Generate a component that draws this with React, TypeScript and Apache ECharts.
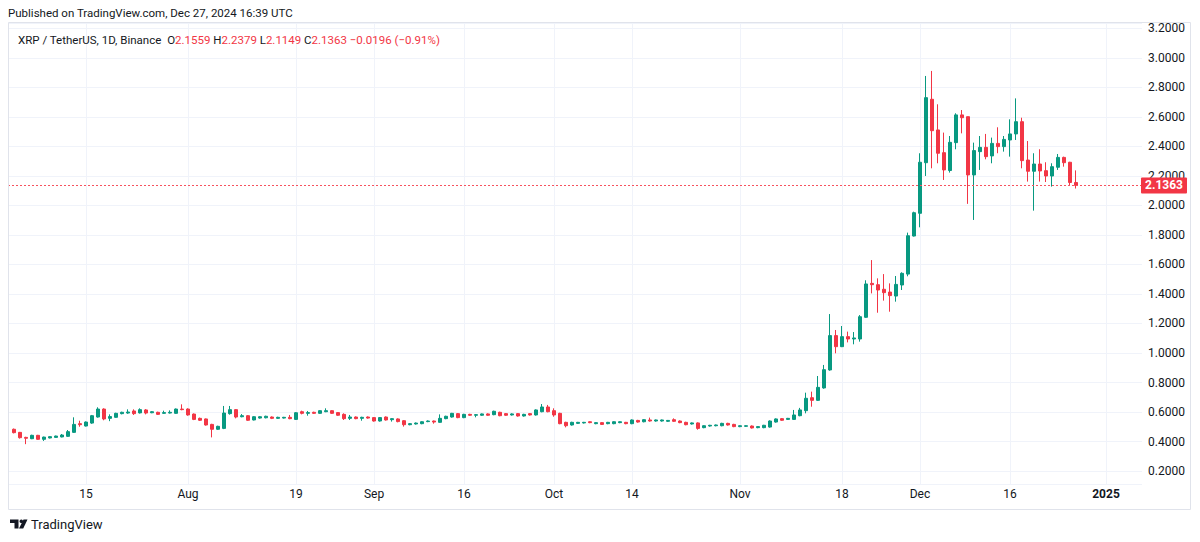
import React, { useEffect, useRef } from "react";
import * as echarts from "echarts";

// ---- data ----
const firstCategoryDate = "2024-07-02";
const categoryCount = 190; // Jul 2 2024 .. Jan 7 2025
const firstCandleDate = "2024-07-03";

const opens = [
  0.483, 0.462, 0.428, 0.419, 0.442, 0.415, 0.424, 0.428, 0.431, 0.435,
  0.462, 0.521, 0.505, 0.525, 0.566, 0.620, 0.557, 0.564, 0.589, 0.593,
  0.607, 0.594, 0.614, 0.595, 0.598, 0.591, 0.593, 0.591, 0.620, 0.620,
  0.586, 0.557, 0.553, 0.516, 0.483, 0.489, 0.589, 0.616, 0.568, 0.575,
  0.546, 0.559, 0.561, 0.566, 0.557, 0.559, 0.564, 0.550, 0.602, 0.591,
  0.598, 0.591, 0.602, 0.609, 0.596, 0.584, 0.557, 0.566, 0.557, 0.566,
  0.562, 0.539, 0.566, 0.548, 0.553, 0.541, 0.514, 0.519, 0.521, 0.535,
  0.539, 0.530, 0.555, 0.566, 0.589, 0.562, 0.584, 0.578, 0.578, 0.587,
  0.582, 0.598, 0.589, 0.580, 0.589, 0.573, 0.589, 0.580, 0.602, 0.634,
  0.609, 0.591, 0.530, 0.512, 0.523, 0.526, 0.534, 0.521, 0.528, 0.521,
  0.521, 0.528, 0.530, 0.521, 0.543, 0.534, 0.546, 0.539, 0.539, 0.537,
  0.548, 0.539, 0.530, 0.519, 0.526, 0.494, 0.505, 0.507, 0.507, 0.523,
  0.516, 0.501, 0.503, 0.505, 0.494, 0.494, 0.498, 0.532, 0.555, 0.550,
  0.550, 0.575, 0.609, 0.697, 0.679, 0.763, 0.885, 1.118, 1.043, 1.111,
  1.095, 1.095, 1.242, 1.472, 1.463, 1.432, 1.413, 1.386, 1.461, 1.535,
  1.793, 1.947, 2.290, 2.720, 2.512, 2.358, 2.237, 2.426, 2.614, 2.602,
  2.207, 2.365, 2.394, 2.336, 2.421, 2.399, 2.444, 2.485, 2.568, 2.308,
  2.232, 2.281, 2.236, 2.200, 2.259, 2.326, 2.293, 2.1559,
];
const closes = [
  0.460, 0.426, 0.422, 0.442, 0.415, 0.430, 0.433, 0.437, 0.444, 0.467,
  0.516, 0.514, 0.532, 0.575, 0.620, 0.553, 0.569, 0.591, 0.598, 0.600,
  0.589, 0.616, 0.593, 0.602, 0.584, 0.596, 0.598, 0.620, 0.616, 0.580,
  0.550, 0.544, 0.512, 0.483, 0.503, 0.593, 0.616, 0.566, 0.575, 0.544,
  0.568, 0.568, 0.571, 0.557, 0.564, 0.564, 0.555, 0.595, 0.591, 0.596,
  0.591, 0.609, 0.609, 0.591, 0.578, 0.555, 0.566, 0.555, 0.564, 0.559,
  0.539, 0.562, 0.546, 0.555, 0.535, 0.514, 0.521, 0.525, 0.534, 0.539,
  0.532, 0.557, 0.571, 0.591, 0.562, 0.584, 0.578, 0.582, 0.587, 0.578,
  0.605, 0.575, 0.578, 0.587, 0.573, 0.584, 0.580, 0.614, 0.634, 0.602,
  0.580, 0.521, 0.507, 0.530, 0.530, 0.530, 0.528, 0.528, 0.516, 0.530,
  0.534, 0.534, 0.521, 0.546, 0.532, 0.548, 0.539, 0.546, 0.546, 0.543,
  0.537, 0.528, 0.514, 0.526, 0.489, 0.507, 0.510, 0.512, 0.523, 0.512,
  0.501, 0.507, 0.507, 0.492, 0.501, 0.510, 0.539, 0.553, 0.544, 0.557,
  0.580, 0.614, 0.693, 0.679, 0.767, 0.887, 1.118, 1.043, 1.111, 1.095,
  1.102, 1.246, 1.468, 1.463, 1.427, 1.409, 1.389, 1.465, 1.540, 1.795,
  1.951, 2.293, 2.731, 2.507, 2.354, 2.241, 2.428, 2.614, 2.595, 2.207,
  2.372, 2.394, 2.331, 2.421, 2.399, 2.448, 2.485, 2.568, 2.304, 2.232,
  2.281, 2.234, 2.200, 2.263, 2.326, 2.290, 2.156, 2.1363,
];
const lows = [
  0.455, 0.420, 0.382, 0.416, 0.412, 0.404, 0.421, 0.425, 0.428, 0.432,
  0.458, 0.500, 0.502, 0.520, 0.562, 0.544, 0.538, 0.561, 0.584, 0.588,
  0.580, 0.590, 0.584, 0.592, 0.580, 0.588, 0.590, 0.588, 0.612, 0.575,
  0.545, 0.539, 0.508, 0.428, 0.479, 0.484, 0.582, 0.557, 0.564, 0.540,
  0.543, 0.555, 0.557, 0.552, 0.553, 0.556, 0.551, 0.546, 0.584, 0.575,
  0.587, 0.588, 0.599, 0.587, 0.574, 0.546, 0.546, 0.551, 0.541, 0.555,
  0.535, 0.535, 0.542, 0.535, 0.530, 0.501, 0.510, 0.515, 0.517, 0.531,
  0.521, 0.527, 0.551, 0.562, 0.558, 0.558, 0.574, 0.564, 0.574, 0.574,
  0.578, 0.571, 0.574, 0.576, 0.569, 0.569, 0.576, 0.576, 0.598, 0.598,
  0.568, 0.517, 0.496, 0.508, 0.519, 0.522, 0.524, 0.517, 0.512, 0.517,
  0.517, 0.524, 0.517, 0.517, 0.528, 0.530, 0.535, 0.535, 0.535, 0.533,
  0.533, 0.524, 0.510, 0.515, 0.480, 0.490, 0.501, 0.503, 0.503, 0.508,
  0.497, 0.497, 0.499, 0.488, 0.490, 0.490, 0.494, 0.528, 0.540, 0.546,
  0.546, 0.571, 0.591, 0.636, 0.675, 0.758, 0.880, 0.998, 1.040, 1.072,
  1.059, 1.077, 1.238, 1.404, 1.273, 1.355, 1.280, 1.348, 1.427, 1.520,
  1.790, 1.852, 2.200, 2.252, 2.286, 2.173, 2.223, 2.381, 2.489, 2.011,
  1.902, 2.241, 2.313, 2.286, 2.354, 2.365, 2.331, 2.444, 2.252, 2.162,
  1.965, 2.162, 2.159, 2.128, 2.241, 2.263, 2.139, 2.1149,
];
const highs = [
  0.488, 0.465, 0.432, 0.446, 0.445, 0.433, 0.436, 0.440, 0.451, 0.478,
  0.564, 0.541, 0.536, 0.580, 0.632, 0.625, 0.584, 0.595, 0.602, 0.618,
  0.618, 0.625, 0.620, 0.606, 0.602, 0.609, 0.611, 0.624, 0.652, 0.625,
  0.590, 0.562, 0.556, 0.520, 0.507, 0.641, 0.641, 0.620, 0.586, 0.579,
  0.572, 0.572, 0.575, 0.570, 0.568, 0.567, 0.580, 0.600, 0.609, 0.607,
  0.602, 0.612, 0.625, 0.612, 0.600, 0.591, 0.580, 0.570, 0.568, 0.570,
  0.566, 0.566, 0.570, 0.558, 0.557, 0.545, 0.525, 0.529, 0.537, 0.543,
  0.542, 0.584, 0.575, 0.594, 0.593, 0.588, 0.588, 0.586, 0.590, 0.591,
  0.609, 0.602, 0.593, 0.591, 0.593, 0.588, 0.593, 0.618, 0.654, 0.648,
  0.625, 0.595, 0.534, 0.534, 0.533, 0.533, 0.537, 0.531, 0.531, 0.533,
  0.537, 0.537, 0.533, 0.550, 0.547, 0.551, 0.562, 0.549, 0.549, 0.546,
  0.557, 0.543, 0.534, 0.529, 0.530, 0.510, 0.513, 0.515, 0.527, 0.527,
  0.520, 0.510, 0.510, 0.509, 0.504, 0.513, 0.543, 0.557, 0.559, 0.560,
  0.614, 0.628, 0.731, 0.738, 0.844, 0.919, 1.264, 1.156, 1.183, 1.145,
  1.142, 1.257, 1.493, 1.630, 1.506, 1.535, 1.472, 1.522, 1.547, 1.816,
  1.958, 2.354, 2.878, 2.912, 2.686, 2.494, 2.471, 2.625, 2.647, 2.602,
  2.426, 2.471, 2.485, 2.460, 2.530, 2.471, 2.584, 2.726, 2.595, 2.437,
  2.354, 2.381, 2.293, 2.286, 2.349, 2.331, 2.296, 2.2379,
];

const tickDates = [
  "2024-07-15", "2024-08-01", "2024-08-19", "2024-09-01", "2024-09-16", "2024-10-01",
  "2024-10-14", "2024-11-01", "2024-11-18", "2024-12-01", "2024-12-16", "2025-01-01",
];
const tickLabels = ["15", "Aug", "19", "Sep", "16", "Oct", "14", "Nov", "18", "Dec", "16", "2025"];

const lastPrice = 2.1363;
const legendText = {
  name: "XRP / TetherUS, 1D, Binance",
  o: "2.1559",
  h: "2.2379",
  l: "2.1149",
  c: "2.1363",
  chg: "\u22120.0196 (\u22120.91%)",
};
const headerText = "Published on TradingView.com, Dec 27, 2024 16:39 UTC";

// ---- helpers ----
function dayString(base: string, offset: number): string {
  const t = Date.parse(base + "T00:00:00Z") + offset * 86400000;
  return new Date(t).toISOString().slice(0, 10);
}

const UP = "#089981";
const DOWN = "#F23645";
const TEXT = "#131722";
const GRID = "#F0F3FA";
const FONT = "Roboto, 'Noto Sans', sans-serif";

export default function App() {
  const ref = useRef<HTMLDivElement>(null);

  useEffect(() => {
    if (!ref.current) return;
    const chart = echarts.init(ref.current, undefined, { renderer: "svg" });

    const categories: string[] = [];
    for (let i = 0; i < categoryCount; i++) categories.push(dayString(firstCategoryDate, i));
    const candleData = opens.map((o, k) => [
      dayString(firstCandleDate, k),
      o,
      closes[k],
      lows[k],
      highs[k],
    ]);

    const tickSet = new Map<string, string>();
    tickDates.forEach((d, i) => tickSet.set(d, tickLabels[i]));
    const showTick = (_idx: number, value: string) => tickSet.has(value);

    chart.setOption({
      animation: false,
      backgroundColor: "#ffffff",
      textStyle: { fontFamily: FONT },
      grid: { left: 8, right: 58, top: 23, bottom: 58, containLabel: false },
      xAxis: {
        type: "category",
        data: categories,
        boundaryGap: false,
        axisLine: { show: false },
        axisTick: { show: false },
        axisLabel: {
          interval: showTick,
          margin: 4,
          color: TEXT,
          fontSize: 12,
          fontFamily: FONT,
          formatter: (v: string) => {
            const t = tickSet.get(v) || "";
            return /^\d{4}$/.test(t) ? "{b|" + t + "}" : t;
          },
          rich: { b: { fontWeight: "bold", fontSize: 12, color: TEXT, fontFamily: FONT } },
        },
        splitLine: { show: true, interval: showTick, lineStyle: { color: GRID, width: 1 } },
      },
      yAxis: {
        type: "value",
        position: "right",
        min: 0.112,
        max: 3.237,
        splitNumber: 16,
        minInterval: 0.2,
        maxInterval: 0.2,
        axisLine: { show: false },
        axisTick: { show: false },
        axisLabel: {
          margin: 6,
          color: TEXT,
          fontSize: 12,
          fontFamily: FONT,
          formatter: (v: number) =>
            Math.abs(v / 0.2 - Math.round(v / 0.2)) > 1e-6 ? "" : v.toFixed(4),
        },
        splitLine: { show: true, lineStyle: { color: GRID, width: 1 } },
      },
      series: [
        {
          type: "candlestick",
          data: candleData,
          encode: { x: 0, y: [1, 2, 3, 4] },
          barWidth: 4,
          itemStyle: {
            color: UP,
            color0: DOWN,
            borderColor: UP,
            borderColor0: DOWN,
            borderWidth: 1,
          },
        },
      ],
      graphic: [
        {
          type: "text",
          z: 100,
          x: 8,
          y: 13,
          style: {
            text: headerText,
            fill: TEXT,
            fontSize: 11.5,
            fontFamily: FONT,
            verticalAlign: "middle",
          },
        },
        {
          type: "text",
          z: 100,
          x: 18,
          y: 40,
          style: {
            text:
              "{n|" + legendText.name + "}  {k|O}{v|" + legendText.o + "} {k|H}{v|" +
              legendText.h + "} {k|L}{v|" + legendText.l + "} {k|C}{v|" + legendText.c +
              "} {v|" + legendText.chg + "}",
            verticalAlign: "middle",
            fontFamily: FONT,
            fontSize: 11.5,
            rich: {
              n: { fill: TEXT, fontSize: 11.5, fontFamily: FONT },
              k: { fill: TEXT, fontSize: 11.5, fontFamily: FONT },
              v: { fill: DOWN, fontSize: 11.5, fontFamily: FONT },
            },
          },
        },
        {
          type: "rect",
          z: 100,
          shape: { x: 1141, y: 8, width: 58, height: 15 },
          style: { fill: "#ffffff" },
        },
        {
          type: "rect",
          z: 101,
          shape: { x: 8.5, y: 22.5, width: 1182, height: 487 },
          style: { fill: "none", stroke: "#E0E3EB", lineWidth: 1 },
        },
        // TradingView logo
        {
          type: "polygon",
          z: 101,
          shape: {
            points: [[10, 519.5], [18.5, 519.5], [18.5, 528.5], [14.5, 528.5], [14.5, 523], [10, 523]],
          },
          style: { fill: TEXT },
        },
        {
          type: "circle",
          z: 101,
          shape: { cx: 21.3, cy: 521.3, r: 1.8 },
          style: { fill: TEXT },
        },
        {
          type: "polygon",
          z: 101,
          shape: { points: [[19, 528.5], [23.2, 528.5], [27.5, 519.5], [23.5, 519.5]] },
          style: { fill: TEXT },
        },
        {
          type: "text",
          z: 101,
          x: 31,
          y: 524,
          style: {
            text: "TradingView",
            fill: TEXT,
            fontSize: 13,
            fontFamily: FONT,
            verticalAlign: "middle",
          },
        },
      ],
    });

    const py = chart.convertToPixel({ yAxisIndex: 0 }, lastPrice) as number;
    const x0 = chart.convertToPixel({ xAxisIndex: 0 }, categories[0]) as number;
    const x1 = chart.convertToPixel({ xAxisIndex: 0 }, categories[categoryCount - 1]) as number;
    const lineY = Math.round(py) + 0.5;
    chart.setOption({
      graphic: [
        {
          id: "priceLine",
          type: "line",
          z: 50,
          shape: { x1: x0, y1: lineY, x2: x1, y2: lineY },
          style: { stroke: "#F7525F", lineWidth: 1, lineDash: [2, 2] },
        },
        {
          id: "priceTagBg",
          type: "rect",
          z: 102,
          shape: { x: 1141, y: py - 8, width: 46, height: 16, r: 1 },
          style: { fill: DOWN },
        },
        {
          id: "priceTagText",
          type: "text",
          z: 103,
          x: 1164,
          y: py,
          style: {
            text: legendText.c,
            fill: "#ffffff",
            fontSize: 12,
            fontWeight: "bold",
            fontFamily: FONT,
            align: "center",
            verticalAlign: "middle",
          },
        },
      ],
    });

    return () => chart.dispose();
  }, []);

  return (
    <div
      ref={ref}
      style={{ position: "absolute", left: 0, top: 0, width: 1200, height: 542, background: "#fff" }}
    />
  );
}
